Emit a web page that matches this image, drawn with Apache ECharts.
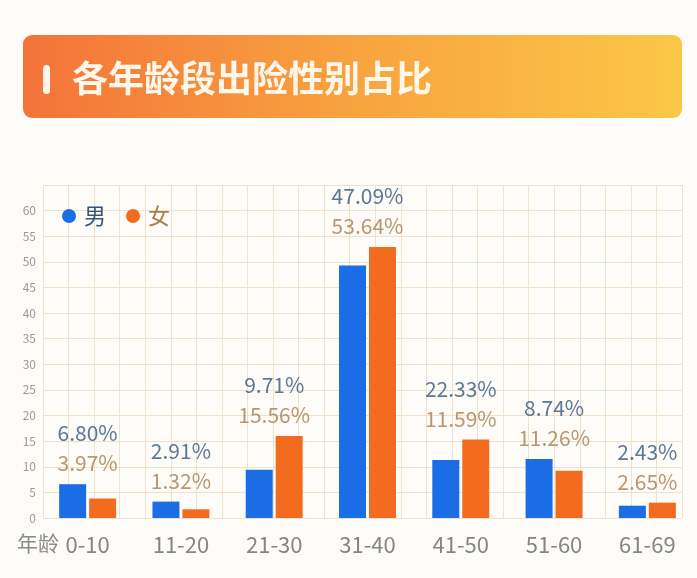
<!DOCTYPE html>
<html>
<head>
<meta charset="utf-8">
<script src="https://cdn.jsdelivr.net/npm/echarts@6/dist/echarts.min.js"></script>
<style>
html,body{margin:0;padding:0;background:#fdfcf8;}
#c{width:697px;height:578px;}
</style>
</head>
<body>
<div id="c"></div>
<script>
var title = '各年龄段出险性别占比';
var categories = ['0-10','11-20','21-30','31-40','41-50','51-60','61-69'];
var seriesNames = ['男','女'];
var maleBars = [6.6, 3.2, 9.4, 49.3, 11.3, 11.5, 2.4];
var femaleBars = [3.8, 1.7, 16.0, 52.9, 15.3, 9.2, 3.0];
var maleLabels = ['6.80%','2.91%','9.71%','47.09%','22.33%','8.74%','2.43%'];
var femaleLabels = ['3.97%','1.32%','15.56%','53.64%','11.59%','11.26%','2.65%'];
var yMin = 0, yMax = 65, yStep = 5;
var xAxisName = '年龄';

var FONT = '"Noto Sans CJK SC", "Noto Sans", sans-serif';
var BLUE = '#1b6de6', ORANGE = '#f26b1f';
var BLUE_TXT = '#35557a', ORANGE_TXT = '#a97c4f';
var GRID_C = '#ede3cd';

var labelAnchor = categories.map(function(c, i){ return Math.max(maleBars[i], femaleBars[i]); });

var chart = echarts.init(document.getElementById('c'), null, {renderer:'canvas'});
chart.setOption({
  backgroundColor: '#fdfcf8',
  animation: false,
  textStyle: {fontFamily: FONT},
  graphic: [
    {type:'rect', left:23, top:35, shape:{width:659, height:83, r:9},
     style:{fill: new echarts.graphic.LinearGradient(0,0,1,0,[
        {offset:0, color:'#f4733a'},{offset:0.5, color:'#f8a33f'},{offset:1, color:'#fcc747'}])}, z:10},
    {type:'rect', left:43, top:65, shape:{width:7, height:29, r:3.5}, style:{fill:'#fff5e8'}, z:11},
    {type:'text', left:72, top:60, style:{text:title, fill:'#fff7e9', font:'bold 36px ' + FONT}, z:11},
    {type:'text', left:17, top:533, style:{text:xAxisName, fill:'#8a8a8a', font:'21px ' + FONT}, z:11}
  ],
  legend: {
    left: 57, top: 200,
    icon: 'circle', itemWidth: 20, itemHeight: 14, itemGap: 20,
    textStyle: {fontSize: 22, fontFamily: FONT},
    data: [
      {name: seriesNames[0], textStyle:{color: BLUE_TXT}},
      {name: seriesNames[1], textStyle:{color: ORANGE_TXT}}
    ]
  },
  grid: [
    {left:43, right:15, top:185, bottom:60},
    {left:41, right:3, top:185, bottom:60}
  ],
  xAxis: [
    {type:'value', gridIndex:0, min:0, max:25, interval:1,
     axisLine:{show:false}, axisTick:{show:false}, axisLabel:{show:false},
     splitLine:{show:true, lineStyle:{color:GRID_C, width:1}}},
    {type:'category', gridIndex:1, data:categories,
     axisLine:{show:false}, axisTick:{show:false},
     axisLabel:{color:'#858585', fontSize:22, margin:16, fontFamily:FONT}}
  ],
  yAxis: [
    {type:'value', gridIndex:0, min:yMin, max:yMax, interval:yStep,
     axisLine:{show:false}, axisTick:{show:false},
     axisLabel:{color:'#9a9a9a', fontSize:12, margin:7, fontFamily:FONT,
       formatter:function(v){ return v >= yMax ? '' : v; }},
     splitLine:{show:true, lineStyle:{color:GRID_C, width:1}}},
    {type:'value', gridIndex:1, min:yMin, max:yMax, interval:yStep, show:false}
  ],
  series: [
    {name: seriesNames[0], type:'bar', xAxisIndex:1, yAxisIndex:1, data:maleBars,
     barWidth:27, barGap:'11%', itemStyle:{color:BLUE}},
    {name: seriesNames[1], type:'bar', xAxisIndex:1, yAxisIndex:1, data:femaleBars,
     barWidth:27, barGap:'11%', itemStyle:{color:ORANGE}},
    {name:'labels', type:'scatter', xAxisIndex:1, yAxisIndex:1, data:labelAnchor,
     symbolSize:0, silent:true,
     label:{show:true, position:'top', distance:6,
       formatter:function(p){ return '{m|' + maleLabels[p.dataIndex] + '}\n{f|' + femaleLabels[p.dataIndex] + '}'; },
       rich:{
         m:{color:BLUE_TXT, fontSize:21, lineHeight:30, fontFamily:FONT, align:'center'},
         f:{color:ORANGE_TXT, fontSize:21, lineHeight:30, fontFamily:FONT, align:'center'}
       }}}
  ]
});
</script>
</body>
</html>
